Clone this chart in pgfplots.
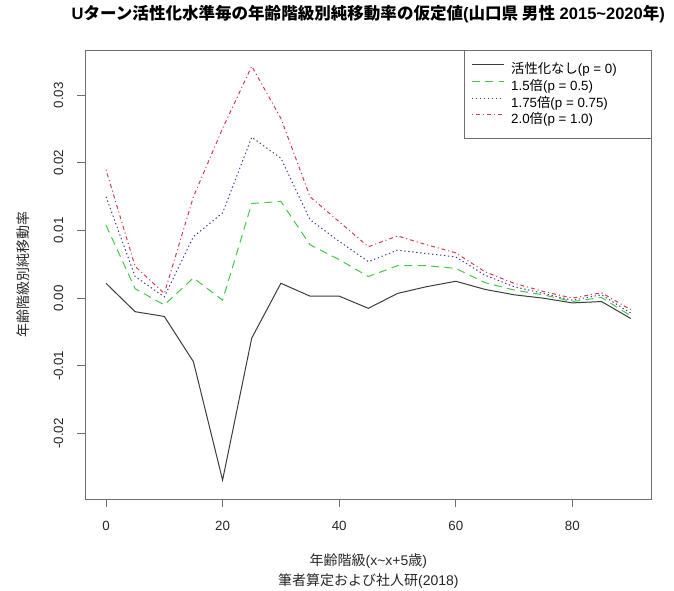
\documentclass[border=0pt]{standalone}
\usepackage{fontspec}
\setmainfont{Liberation Sans}
\newfontfamily\jp{Noto Sans CJK JP}
\usepackage{pgfplots}
\usepackage{pgfplotstable}
\pgfplotsset{compat=1.18}

\definecolor{rblack}{RGB}{60,60,60}
\definecolor{rgreen}{RGB}{70,200,70}
\definecolor{rblue}{RGB}{60,60,160}
\definecolor{rred}{RGB}{210,60,80}
\definecolor{boxgray}{RGB}{110,110,110}

\newcommand\lent[1]{\makebox[95pt][l]{#1}}

% age class x, none (k), 1.5 (g), 1.75 (b), 2.0 (r)
\pgfplotstableread{
x   k        g        b        r
0   0.0022   0.0108   0.0150   0.0190
5  -0.0020   0.0014   0.0032   0.0047
10 -0.0027  -0.0010   0.0002   0.0007
15 -0.0094   0.0030   0.0091   0.0150
20 -0.0269  -0.0003   0.0126   0.0251
25 -0.0059   0.0140   0.0238   0.0343
30  0.0022   0.0143   0.0207   0.0266
35  0.0003   0.0079   0.0116   0.0150
40  0.0003   0.0057   0.0084   0.0113
45 -0.0015   0.0032   0.0054   0.0076
50  0.0007   0.0048   0.0071   0.0092
55  0.0017   0.0048   0.0066   0.0079
60  0.0025   0.0044   0.0061   0.0067
65  0.0013   0.0023   0.0034   0.0039
70  0.0005   0.0012   0.0017   0.0022
75  0.0000   0.0005   0.0007   0.0010
80 -0.0007  -0.0005  -0.0003   0.0000
85 -0.0005   0.0001   0.0005   0.0008
90 -0.0030  -0.0026  -0.0022  -0.0017
}\rates

\begin{document}
\begin{tikzpicture}
\useasboundingbox (-63.75pt,-68.25pt) rectangle (441.75pt,374.25pt);
\begin{axis}[
  scale only axis, width=425pt, height=336.75pt,
  xmin=-3.6, xmax=93.6, ymin=-0.0297, ymax=0.0367,
  axis line style={boxgray, line width=0.7pt},
  tick style={boxgray, line width=0.7pt},
  tick align=outside, major tick length=5.75pt,
  xtick pos=left, ytick pos=left,
  xtick={0,20,40,60,80},
  ytick={-0.02,-0.01,0,0.01,0.02,0.03},
  yticklabels={-0.02,-0.01,0.00,0.01,0.02,0.03},
  scaled y ticks=false,
  /pgf/number format/assume math mode=true,
  ticklabel style={font=\fontsize{10}{12}\selectfont, text=black!85},
  yticklabel style={rotate=90, anchor=south},
  xticklabel shift=7pt, yticklabel shift=7pt,
  legend style={at={(1,1)}, anchor=north east, draw=boxgray, line width=0.7pt,
    fill=white, inner xsep=5pt, inner ysep=8pt, row sep=0pt,
    font=\fontsize{10}{12}\selectfont,
    nodes={inner xsep=5pt, inner ysep=0pt, text height=9.5pt, text depth=3pt}},
  legend cell align=left,
  legend image code/.code={\draw[#1] (0pt,3.5pt) -- (24pt,3.5pt);},
]
\addplot[rblack, line width=0.75pt] table[x=x, y=k] {\rates};
\addlegendentry{\lent{{\jp 活性化なし}(p = 0)}}
\addplot[rgreen, line width=0.75pt, dash pattern=on 6pt off 4pt] table[x=x, y=g] {\rates};
\addlegendentry{\lent{1.5{\jp 倍}(p = 0.5)}}
\addplot[rblue, line width=0.75pt, dash pattern=on 1pt off 2pt] table[x=x, y=b] {\rates};
\addlegendentry{\lent{1.75{\jp 倍}(p = 0.75)}}
\addplot[rred, line width=0.75pt, dash pattern=on 0.8pt off 2.2pt on 3pt off 2.2pt] table[x=x, y=r] {\rates};
\addlegendentry{\lent{2.0{\jp 倍}(p = 1.0)}}
\end{axis}
\node[font=\fontsize{12.4}{14}\selectfont\bfseries] at (212.5pt,363.75pt)
  {U{\jp ターン活性化水準毎の年齢階級別純移動率の仮定値}({\jp 山口県 男性} 2015\textasciitilde 2020{\jp 年})};
\node[font=\fontsize{10.5}{12}\selectfont, text=black!85] at (212.5pt,-46.3pt)
  {{\jp 年齢階級}(x\textasciitilde x+5{\jp 歳})};
\node[font=\fontsize{10.5}{12}\selectfont, text=black!85] at (212.5pt,-61.5pt)
  {{\jp 筆者算定および社人研}(2018)};
\node[rotate=90, font=\fontsize{10.5}{12}\selectfont, text=black!85] at (-46.5pt,168.4pt)
  {{\jp 年齢階級別純移動率}};
\end{tikzpicture}
\end{document}
